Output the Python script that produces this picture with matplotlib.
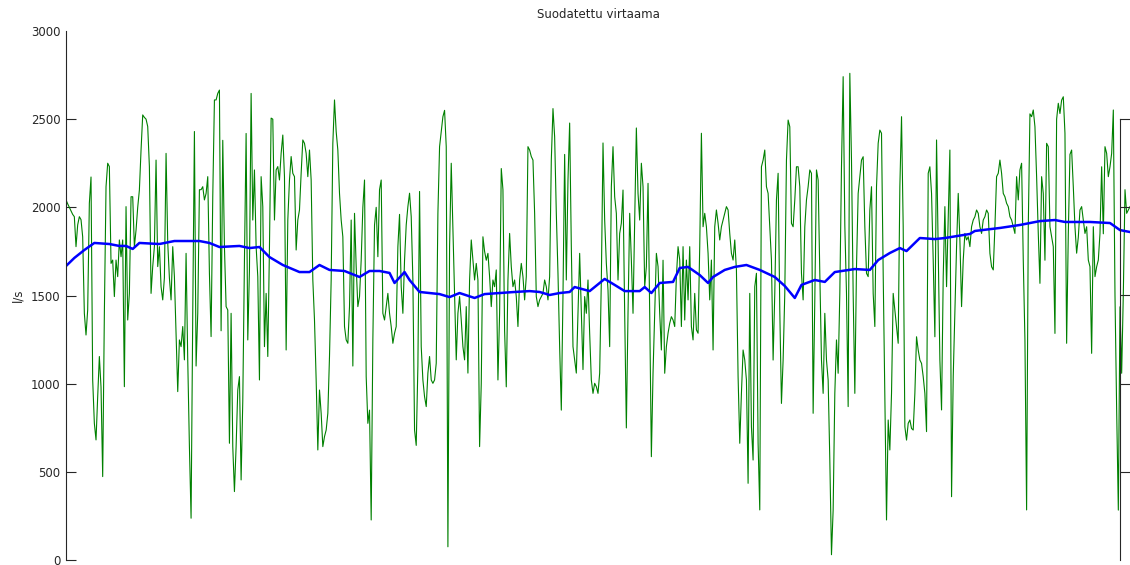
import numpy as np
import matplotlib
matplotlib.use("Agg")
import matplotlib.pyplot as plt

# raw flow (green) at even steps
flow_raw = [
    2042, 2020, 2000, 1980, 1960, 1947, 1777, 1900, 1947, 1930,
    1833, 1399, 1276, 1418, 2023, 2172, 1021, 775, 681, 926,
    1154, 980, 473, 1399, 2117, 2250, 2231, 1682, 1701, 1494,
    1701, 1607, 1815, 1720, 1815, 983, 2004, 1361, 1512, 2060,
    2060, 1777, 1871, 2000, 2098, 2325, 2524, 2510, 2500, 2458,
    2231, 1512, 1664, 1777, 2268, 1664, 1777, 1550, 1475, 1600,
    2306, 1800, 1600, 1475, 1777, 1607, 1286, 955, 1248, 1210,
    1324, 1135, 1739, 1135, 643, 237, 1399, 2430, 1100, 1399,
    2100, 2100, 2117, 2042, 2079, 2174, 1626, 1267, 2060, 2609,
    2609, 2646, 2665, 1300, 2380, 1777, 1437, 1418, 662, 1399,
    643, 388, 643, 964, 1040, 454, 900, 1701, 2419, 1248,
    1645, 2646, 1928, 2212, 1777, 1607, 1021, 2174, 2004, 1210,
    1512, 1154, 1777, 2506, 2500, 1928, 2212, 2231, 2155, 2306,
    2410, 2174, 1191, 1928, 2155, 2288, 2193, 2174, 1758, 1928,
    1985, 2193, 2382, 2363, 2306, 2174, 2325, 2155, 1588, 1361,
    1021, 624, 964, 832, 643, 700, 737, 832, 1154, 1588,
    2363, 2609, 2430, 2325, 2079, 1928, 1833, 1324, 1248, 1229,
    1437, 1928, 1100, 1966, 1664, 1437, 1494,
    1700, 2000, 2155, 1040, 775, 850, 227, 1250, 1900, 2000,
    1720, 2100, 2155, 1399, 1361, 1437, 1512, 1399, 1324, 1229,
    1286, 1324, 1777, 1960, 1550, 1399, 1700, 1900, 2004, 2080,
    1947, 1588, 737, 650, 1100, 2090, 1210, 1021, 926, 870,
    1060, 1154, 1021, 1002, 1021, 1116, 1966, 2344, 2430, 2514,
    2550, 2344, 75, 1777, 2250, 1871, 1494, 1135, 1399, 1494,
    1361, 1210, 1135, 1437, 1060, 1588, 1815, 1701, 1588, 1682,
    1588, 643, 1000, 1833, 1750, 1700, 1739, 1607, 1437, 1588,
    1550, 1645, 1021, 1399, 2220, 2100, 1300, 982, 1588, 1852,
    1664, 1550, 1588, 1494, 1324, 1588, 1682, 1607, 1475, 1607,
    2344, 2325, 2288, 2268, 1966, 1494, 1437, 1475, 1494, 1512,
    1588, 1550, 1475, 1607, 2268, 2560, 2400, 1966, 1626, 1210,
    850, 1500, 2300, 1588, 2155, 2478, 1777, 1210, 1135, 1060,
    1399, 1739, 1399, 1080, 1494, 1399, 1588, 1286, 1021, 945,
    1002, 983, 945, 1060, 1588, 2365, 1928, 1682, 1531, 1210,
    2117, 2344, 2060, 1966, 1588, 1852, 1910, 2098, 1399, 749,
    1400, 1966, 1701, 1399, 1928, 2450, 2079, 1928, 2250, 2117,
    1550, 1664, 2136, 1399, 586, 1060, 1399, 1739, 1664, 1399,
    1191, 1700, 1059, 1210, 1286, 1342, 1380, 1361, 1324, 1607,
    1777, 1701, 1324, 1777, 1361, 1701, 1475, 1777, 1324, 1248,
    1512, 1305, 1286, 1777, 2420, 1890, 1966, 1890, 1739, 1475,
    1701, 1191, 1890, 1985, 1910, 1815, 1890, 1928, 1966, 2004,
    1985, 1852, 1739, 1701, 1815, 1645, 1040, 662, 945, 1191,
    1134, 1021, 435, 1512, 756, 567, 1550, 1626, 662, 284,
    2230, 2268, 2325, 2117, 2079, 1890, 1701, 1134, 1512, 2042,
    2193, 1418, 888, 1134, 1512, 2268, 2495, 2457, 1909, 1890,
    2042, 2230, 2230, 2117, 1626, 1475, 1890, 2042, 2117, 2212,
    2193, 832, 1475, 2212, 2155, 1626, 1134, 945, 1399, 1134,
    1021, 567, 30, 284, 945, 1248, 1059, 1512, 2230, 2741,
    1900, 1512, 870, 2760, 2268, 1512, 945, 1664, 2079, 2174,
    2268, 2287, 1890, 1626, 1607, 1985, 2117, 1512, 1324, 2117,
    2363, 2438, 2420, 1626, 945, 227, 794, 624, 945, 1512,
    1418, 1324, 1229, 2117, 2514, 1890, 756, 680, 775, 794,
    746, 737, 945, 1266, 1191, 1134, 1115, 1040, 945, 728,
    2193, 2230, 2079, 1701, 1266, 2382, 1777, 1134, 851, 1607,
    2004, 1550, 1928, 2325, 359, 1040, 1400, 1777, 2079, 1815,
    1437, 1701, 1852, 1815, 1833, 1777, 1890, 1928, 1947, 1985,
    1966, 1890, 1852, 1928, 1947, 1985, 1966, 1739, 1663, 1645,
    1890, 2174, 2193, 2268, 2193, 2079, 2060, 2023, 2004, 1947,
    1928, 1890, 1852, 2174, 2042, 2212, 2250, 1701, 1248, 284,
    1890, 2530, 2514, 2552, 2457, 2174, 1852, 1569, 2174, 2079,
    1700, 2363, 2344, 1890, 1833, 1777, 1285, 2500, 2590, 2532,
    2608, 2627, 2420, 1229, 1850, 2300, 2325, 2117, 1890, 1740,
    1830, 1985, 2004, 1928, 1852, 1890, 1701, 1663, 1172, 1890,
    1607, 1663, 1701, 1852, 2230, 1850, 2344, 2306, 2174, 2230,
    2306, 2552, 1500, 850, 283, 1436, 1059, 1512, 2100, 1966,
    1985, 2004,
]

# filtered flow (blue): sample number and value
filt_t = [0, 5, 11, 17, 26, 32, 36, 40, 44, 56, 65, 74, 80, 86, 92,
          104, 110, 116, 122, 130, 140, 146, 152, 158, 167, 176, 182,
          188, 194, 197, 203, 206, 212, 224, 230, 236, 245, 251, 260,
          269, 278, 284, 290, 296, 302, 305, 314, 323, 329, 335, 344,
          347, 351, 356, 364, 368, 373, 380, 385, 388, 395, 401, 408,
          416, 425, 431, 437, 441, 449, 455, 461, 473, 482, 487, 494,
          500, 504, 512, 521, 527, 542, 545, 560, 572, 584, 593, 599,
          614, 626, 632, 638]
filt_v = [1667, 1713, 1758, 1798, 1792, 1781, 1781, 1764, 1798, 1792,
          1809, 1809, 1809, 1798, 1775, 1781, 1769, 1775, 1718, 1673,
          1633, 1633, 1673, 1645, 1639, 1605, 1639, 1639, 1628, 1571,
          1633, 1588, 1520, 1508, 1491, 1514, 1486, 1508, 1514, 1520,
          1525, 1520, 1503, 1514, 1520, 1548, 1525, 1594, 1560, 1525,
          1525, 1548, 1514, 1571, 1577, 1656, 1662, 1616, 1571, 1605,
          1645, 1662, 1673, 1645, 1605, 1554, 1486, 1560, 1588, 1577,
          1633, 1650, 1645, 1701, 1741, 1769, 1752, 1826, 1820, 1826,
          1849, 1866, 1883, 1900, 1922, 1928, 1917, 1917, 1911, 1871,
          1860]

yticks = [0, 500, 1000, 1500, 2000, 2500, 3000]

fig = plt.figure(figsize=(11.3, 5.65), dpi=100)
ax = fig.add_axes([66 / 1130, 5 / 565, 1064 / 1130, 529 / 565])

t = np.arange(len(flow_raw))
ax.plot(t, flow_raw, color="#008000", linewidth=0.8)
ax.plot(filt_t, filt_v, color="#0000ff", linewidth=1.8)

ax.set_xlim(0, len(flow_raw) - 1)
ax.set_ylim(0, 3000)
ax.set_yticks(yticks)
ax.set_xticks([])
for s in ["top", "right", "bottom"]:
    ax.spines[s].set_visible(False)
ax.spines["left"].set_color("#262626")
ax.tick_params(axis="y", direction="in", length=7, width=0.8,
               colors="#262626", labelsize=8.5, pad=4)
ax.yaxis.get_major_ticks()[-1].tick1line.set_visible(False)

ax.set_title("Suodatettu virtaama", fontsize=8.5, color="#262626", pad=9)
ax.set_ylabel("l/s", fontsize=8.5, color="#262626", labelpad=5)

# second axes box peeking in at the right edge
ax2 = fig.add_axes([1120 / 1130, 5 / 565, 0.1, 441 / 565])
ax2.patch.set_alpha(0)
ax2.set_ylim(0, 2500)
ax2.set_yticks([500, 1000, 1500, 2000])
ax2.set_yticklabels([])
ax2.set_xticks([])
for s in ["right", "bottom"]:
    ax2.spines[s].set_visible(False)
ax2.spines["left"].set_color("#262626")
ax2.spines["top"].set_color("#262626")
ax2.tick_params(axis="y", direction="in", length=7, width=0.8, colors="#262626")

fig.savefig("out.png", dpi=100)
